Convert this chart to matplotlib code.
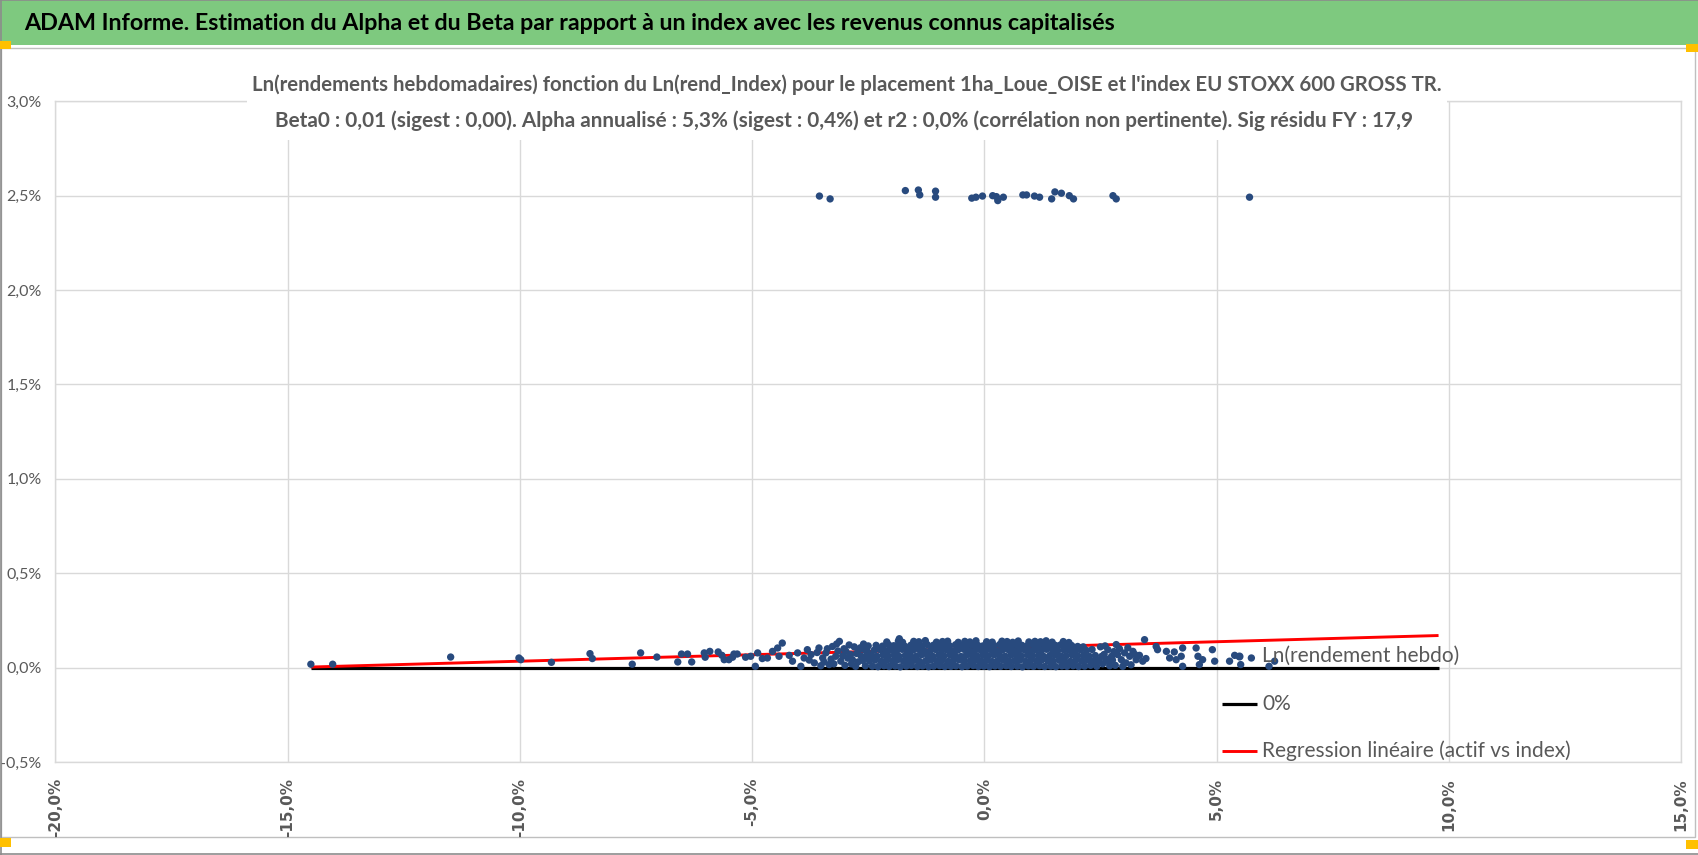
import matplotlib
matplotlib.use('Agg')
import matplotlib.pyplot as plt
from matplotlib import font_manager
from matplotlib.patches import Rectangle
from matplotlib.lines import Line2D

# ---------------- DATA ----------------
title_text = "ADAM Informe. Estimation du Alpha et du Beta par rapport à un index avec les revenus connus capitalisés"
subtitle_1 = "Ln(rendements hebdomadaires) fonction du Ln(rend_Index) pour le placement 1ha_Loue_OISE et l'index EU STOXX 600 GROSS TR."
subtitle_2 = "Beta0 : 0,01 (sigest : 0,00). Alpha annualisé : 5,3% (sigest : 0,4%) et r2 : 0,0% (corrélation non pertinente). Sig résidu FY : 17,9"
legend_labels = ["Ln(rendement hebdo)", "0%", "Regression linéaire (actif vs index)"]

x_ticks = [-20, -15, -10, -5, 0, 5, 10, 15]
x_tick_labels = ["-20,0%", "-15,0%", "-10,0%", "-5,0%", "0,0%", "5,0%", "10,0%", "15,0%"]
y_ticks = [-0.5, 0.0, 0.5, 1.0, 1.5, 2.0, 2.5, 3.0]
y_tick_labels = ["-0,5%", "0,0%", "0,5%", "1,0%", "1,5%", "2,0%", "2,5%", "3,0%"]

# points near 2.5 %
top_x = [-3.55, -3.32, -1.70, -1.42, -1.39, -1.05, -1.05, -0.27, -0.18, -0.04, 0.18, 0.26, 0.29,
         0.41, 0.83, 0.91, 1.08, 1.19, 1.45, 1.52, 1.66, 1.83, 1.92, 2.77, 2.84, 5.71]
top_y = [2.498, 2.483, 2.527, 2.530, 2.504, 2.524, 2.492, 2.487, 2.492, 2.498, 2.500, 2.495, 2.474,
         2.492, 2.504, 2.504, 2.498, 2.492, 2.483, 2.520, 2.513, 2.500, 2.483, 2.500, 2.483, 2.492]

# sparse left tail
left_x = [-14.50, -14.03, -11.49, -10.02, -9.98, -9.32, -8.49, -8.44, -7.58, -7.40, -7.05, -6.60, -6.52,
          -6.39, -6.30, -6.03, -6.01, -5.91, -5.73, -5.65, -5.60, -5.50, -5.42, -5.39, -5.32, -5.14]
left_y = [0.018, 0.018, 0.056, 0.051, 0.042, 0.028, 0.074, 0.048, 0.018, 0.078, 0.056, 0.030, 0.072,
          0.072, 0.030, 0.078, 0.055, 0.086, 0.083, 0.065, 0.042, 0.042, 0.055, 0.072, 0.072, 0.055]

# transition -5 % .. -2.45 %
mid_left_x = [-5.03, -4.93, -4.88, -4.78, -4.67, -4.56, -4.45, -4.42, -4.35, -4.20, -4.13, -4.02, -3.95,
              -3.88, -3.81, -3.77, -3.73, -3.66, -3.60, -3.56, -3.52, -3.48, -3.41, -3.38, -3.34, -3.30,
              -3.27, -3.20, -3.15, -3.12, -3.09, -3.05, -3.00, -2.98, -2.91, -2.88, -2.84, -2.80, -2.77,
              -2.72, -2.69, -2.65, -2.60, -2.56, -2.52, -2.48, -1.83,
              -3.45, -3.24, -3.18, -3.02, -2.94, -2.86, -2.75, -2.67, -2.62, -2.58, -2.54, -2.50]
mid_left_y = [0.060, 0.007, 0.078, 0.048, 0.051, 0.086, 0.104, 0.060, 0.130, 0.065, 0.034, 0.078, 0.007,
              0.051, 0.095, 0.040, 0.069, 0.025, 0.080, 0.104, 0.010, 0.051, 0.078, 0.100, 0.016, 0.045,
              0.112, 0.060, 0.088, 0.139, 0.034, 0.062, 0.012, 0.086, 0.120, 0.070, 0.042, 0.110, 0.007,
              0.030, 0.095, 0.060, 0.125, 0.010, 0.085, 0.045, 0.153,
              0.030, 0.020, 0.125, 0.100, 0.050, 0.020, 0.075, 0.105, 0.038, 0.095, 0.062, 0.115]

# dense core, read row by row
core1_x = [-2.41, -2.29, -2.16, -2.05, -1.92, -1.81, -1.68, -1.57, -1.44, -1.33, -1.20, -1.09, -0.96, -0.85,
           -0.72, -0.61, -0.48, -0.37, -0.24, -0.13, -0.01, 0.11, 0.23, 0.35, 0.47, 0.58, 0.71, 0.82,
           0.95, 1.06, 1.19, 1.30, 1.43, 1.54, 1.67, 1.78, 1.91, 2.03, 2.16, 2.29, 2.42]
core1_y = [0.008, 0.005, 0.010, 0.006, 0.009, 0.004, 0.008, 0.011, 0.006, 0.009, 0.005, 0.008, 0.010, 0.006,
           0.007, 0.009, 0.005, 0.008, 0.011, 0.006, 0.008, 0.005, 0.009, 0.007, 0.010, 0.006, 0.008, 0.004,
           0.009, 0.007, 0.010, 0.006, 0.008, 0.005, 0.009, 0.007, 0.010, 0.006, 0.008, 0.012, 0.007]
core2_x = [-2.47, -2.35, -2.22, -2.11, -1.98, -1.87, -1.74, -1.63, -1.50, -1.39, -1.26, -1.15, -1.02, -0.91,
           -0.78, -0.67, -0.54, -0.43, -0.30, -0.19, -0.07, 0.05, 0.17, 0.29, 0.41, 0.53, 0.65, 0.76,
           0.89, 1.00, 1.13, 1.24, 1.37, 1.48, 1.61, 1.72, 1.85, 1.97, 2.10, 2.22, 2.35, 2.47]
core2_y = [0.036, 0.040, 0.033, 0.038, 0.035, 0.041, 0.034, 0.037, 0.039, 0.032, 0.036, 0.040, 0.035, 0.038,
           0.033, 0.037, 0.041, 0.034, 0.036, 0.039, 0.035, 0.038, 0.032, 0.037, 0.040, 0.034, 0.036, 0.039,
           0.033, 0.038, 0.035, 0.041, 0.036, 0.034, 0.039, 0.037, 0.033, 0.038, 0.035, 0.040, 0.034, 0.037]
core3_x = [-2.43, -2.31, -2.18, -2.07, -1.94, -1.83, -1.70, -1.59, -1.46, -1.35, -1.22, -1.11, -0.98, -0.87,
           -0.74, -0.63, -0.50, -0.39, -0.26, -0.15, -0.03, 0.09, 0.21, 0.33, 0.45, 0.57, 0.69, 0.80,
           0.93, 1.04, 1.17, 1.28, 1.41, 1.52, 1.65, 1.76, 1.89, 2.01, 2.14, 2.26, 2.39]
core3_y = [0.064, 0.060, 0.067, 0.062, 0.066, 0.059, 0.065, 0.063, 0.061, 0.068, 0.064, 0.060, 0.066, 0.062,
           0.067, 0.063, 0.059, 0.065, 0.064, 0.061, 0.066, 0.062, 0.068, 0.063, 0.060, 0.066, 0.064, 0.061,
           0.067, 0.062, 0.065, 0.059, 0.064, 0.066, 0.061, 0.063, 0.067, 0.062, 0.065, 0.060, 0.064]
core4_x = [-2.37, -2.25, -2.12, -2.01, -1.88, -1.77, -1.64, -1.53, -1.40, -1.29, -1.16, -1.05, -0.92, -0.81,
           -0.68, -0.57, -0.44, -0.33, -0.20, -0.09, 0.03, 0.15, 0.27, 0.39, 0.51, 0.63, 0.75, 0.86,
           0.99, 1.10, 1.23, 1.34, 1.47, 1.58, 1.71, 1.82, 1.95, 2.07, 2.20, 2.32]
core4_y = [0.092, 0.096, 0.089, 0.094, 0.091, 0.097, 0.090, 0.093, 0.095, 0.088, 0.092, 0.096, 0.091, 0.094,
           0.089, 0.093, 0.097, 0.090, 0.092, 0.095, 0.091, 0.094, 0.088, 0.093, 0.096, 0.090, 0.092, 0.095,
           0.089, 0.094, 0.091, 0.097, 0.092, 0.090, 0.095, 0.093, 0.089, 0.094, 0.091, 0.096]
core5_x = [-2.33, -2.19, -2.06, -1.95, -1.82, -1.71, -1.58, -1.47, -1.34, -1.23, -1.10, -0.99, -0.86, -0.75,
           -0.62, -0.51, -0.38, -0.27, -0.14, -0.03, 0.09, 0.21, 0.33, 0.45, 0.57, 0.69, 0.81, 0.92,
           1.05, 1.16, 1.29, 1.40, 1.53, 1.64, 1.77, 1.88, 2.01, 2.13]
core5_y = [0.118, 0.114, 0.121, 0.116, 0.120, 0.113, 0.119, 0.117, 0.115, 0.122, 0.118, 0.114, 0.120, 0.116,
           0.121, 0.117, 0.113, 0.119, 0.118, 0.115, 0.120, 0.116, 0.122, 0.117, 0.114, 0.120, 0.118, 0.115,
           0.121, 0.116, 0.119, 0.113, 0.118, 0.120, 0.115, 0.117, 0.112, 0.110]
core6_x = [-2.10, -1.85, -1.76, -1.52, -1.41, -1.27, -1.03, -0.90, -0.79, -0.56, -0.42, -0.31, -0.18,
           0.05, 0.17, 0.38, 0.49, 0.61, 0.73, 0.96, 1.09, 1.21, 1.33, 1.46, 1.70, 1.82]
core6_y = [0.136, 0.141, 0.134, 0.139, 0.137, 0.143, 0.135, 0.138, 0.140, 0.134, 0.139, 0.136, 0.142,
           0.137, 0.135, 0.140, 0.138, 0.134, 0.141, 0.136, 0.139, 0.137, 0.142, 0.135, 0.138, 0.133]

# transition and sparse right tail
right_x = [2.50, 2.55, 2.58, 2.62, 2.66, 2.70, 2.74, 2.79, 2.84, 2.87, 2.95, 2.98, 3.02, 3.05, 3.13, 3.20,
           3.27, 3.34, 3.41, 3.45, 3.48, 3.70, 3.73, 3.92, 3.99, 4.09, 4.13, 4.24, 4.27, 4.27, 4.56, 4.60,
           4.63, 4.70, 4.91, 4.96, 5.28, 5.39, 5.52, 5.75, 6.13, 6.25,
           2.53, 2.60, 2.68, 2.76, 2.82, 2.91, 3.09, 3.16, 3.24]
right_y = [0.110, 0.020, 0.070, 0.045, 0.095, 0.010, 0.060, 0.085, 0.122, 0.069, 0.042, 0.007, 0.078, 0.025,
           0.060, 0.086, 0.042, 0.065, 0.034, 0.148, 0.048, 0.112, 0.095, 0.086, 0.051, 0.083, 0.042, 0.060,
           0.104, 0.007, 0.104, 0.060, 0.016, 0.042, 0.095, 0.034, 0.034, 0.065, 0.016, 0.051, 0.007, 0.034,
           0.060, 0.115, 0.030, 0.040, 0.012, 0.100, 0.105, 0.015, 0.070]

zero_x = [-14.5, 9.78]
zero_y = [0.0, 0.0]
reg_x = [-14.5, 9.78]
reg_y = [0.003, 0.170]

# ---------------- STYLE ----------------
W, H = 1698, 855
DOT = '#284A7E'
GREY_TXT = '#595959'
GRID = '#D9D9D9'

names = {f.name for f in font_manager.fontManager.ttflist}
NARROW = 'Liberation Sans Narrow' if 'Liberation Sans Narrow' in names else 'Lato'

fig = plt.figure(figsize=(W / 100, H / 100), dpi=100)
fig.patch.set_facecolor('white')


def fx(px):
    return px / W


def fy(py):
    return 1 - py / H


def frect(x0, y0, x1, y1, **kw):
    r = Rectangle((fx(x0), fy(y1)), fx(x1) - fx(x0), fy(y0) - fy(y1),
                  transform=fig.transFigure, **kw)
    fig.add_artist(r)
    return r


# frame pieces (green header, chart border, selection handles)
frect(0, 0, W, 45, facecolor='#7EC97F', edgecolor='none', zorder=0)
fig.add_artist(Line2D([0, 1], [fy(0.5), fy(0.5)], transform=fig.transFigure, color='#8C8C8C', lw=1.2))
frect(0.5, 48, W - 3, 837, facecolor='none', edgecolor='#BFBFBF', lw=1, zorder=0)
fig.add_artist(Line2D([0, 1], [fy(854), fy(854)], transform=fig.transFigure, color='#8C8C8C', lw=1.2))
fig.add_artist(Line2D([fx(0.5), fx(0.5)], [0, 1], transform=fig.transFigure, color='#8C8C8C', lw=1.2))
for (hx0, hy0, hx1, hy1) in [(0, 41, 11, 49), (0, 838, 11, 847), (1686, 44, 1698, 52), (1686, 840, 1698, 849)]:
    frect(hx0, hy0, hx1, hy1, facecolor='#FFC000', edgecolor='none', zorder=5)

# axes
ax = fig.add_axes([fx(55.4), fy(762), fx(1681) - fx(55.4), fy(101.3) - fy(762)])
ax.set_xlim(-20, 15)
ax.set_ylim(-0.5, 3.0)
ax.set_xticks(x_ticks)
ax.set_xticklabels(x_tick_labels, rotation=90, fontsize=11, fontweight='bold',
                   color=GREY_TXT, family='DejaVu Sans')
ax.set_yticks(y_ticks)
ax.set_yticklabels(y_tick_labels, fontsize=11.5, color=GREY_TXT, family=NARROW)
ax.tick_params(axis='x', length=0, pad=11.5)
ax.tick_params(axis='y', length=0, pad=10)
ax.grid(True, color=GRID, lw=1)
ax.set_axisbelow(True)
for s in ax.spines.values():
    s.set_color(GRID)
    s.set_linewidth(1)

ax.plot(zero_x, zero_y, color='black', lw=2.3, solid_capstyle='butt', zorder=2)
ax.plot(reg_x, reg_y, color='#FF0000', lw=2.1, solid_capstyle='butt', zorder=2)

all_x = top_x + left_x + mid_left_x + core1_x + core2_x + core3_x + core4_x + core5_x + core6_x + right_x
all_y = top_y + left_y + mid_left_y + core1_y + core2_y + core3_y + core4_y + core5_y + core6_y + right_y
ax.scatter(all_x, all_y, s=28, color=DOT, edgecolors='none', zorder=3)

# chart title with white background
frect(247, 63, 1447, 140, facecolor='white', edgecolor='none', zorder=1)
renderer = fig.canvas.get_renderer()


def fit(t, width_px):
    bb = t.get_window_extent(renderer=renderer)
    t.set_fontsize(t.get_fontsize() * width_px / bb.width)


t0 = fig.text(fx(24), fy(24), title_text, ha='left', va='center', fontsize=16,
              fontweight='bold', color='black', family=NARROW, zorder=6)
fit(t0, 1099)
t1 = fig.text(fx(846.5), fy(84.5), subtitle_1, ha='center', va='center', fontsize=14,
              fontweight='bold', color=GREY_TXT, family=NARROW, zorder=6)
fit(t1, 1199)
t2 = fig.text(fx(844), fy(121), subtitle_2, ha='center', va='center', fontsize=14,
              fontweight='bold', color=GREY_TXT, family=NARROW, zorder=6)
fit(t2, 1150)

# legend (drawn manually at its place inside the plot)
rows_y = [656, 703.5, 751]
leg_texts = []
for lab, ry in zip(legend_labels, rows_y):
    leg_texts.append(fig.text(fx(1262), fy(ry), lab, ha='left', va='center', fontsize=14,
                              color=GREY_TXT, family=NARROW, zorder=6))
fit(leg_texts[2], 310)
for t in leg_texts[:2]:
    t.set_fontsize(leg_texts[2].get_fontsize())
fig.add_artist(Line2D([fx(1239)], [fy(rows_y[0])], transform=fig.transFigure, marker='o',
                      ms=5.8, color=DOT, mec='none', ls='none', zorder=6))
fig.add_artist(Line2D([fx(1222), fx(1257)], [fy(rows_y[1])] * 2, transform=fig.transFigure,
                      color='black', lw=2.3, solid_capstyle='butt', zorder=6))
fig.add_artist(Line2D([fx(1222), fx(1257)], [fy(rows_y[2])] * 2, transform=fig.transFigure,
                      color='#FF0000', lw=2.1, solid_capstyle='butt', zorder=6))

fig.savefig('out.png', dpi=100, facecolor='white')
